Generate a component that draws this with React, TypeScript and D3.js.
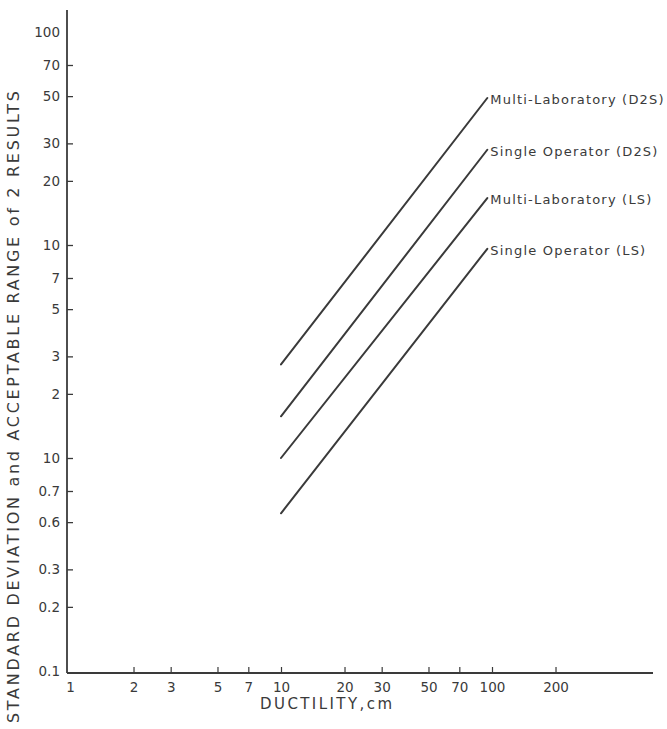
import { useEffect, useRef } from "react";
import * as d3 from "d3";

// ductility range covered by the precision lines (cm)
const ductility = [10, 95];

const seriesNames = [
  "Multi-Laboratory (D2S)",
  "Single Operator (D2S)",
  "Multi-Laboratory (LS)",
  "Single Operator (LS)",
];
const multiLabD2S = [2.75, 49];
const singleOpD2S = [1.57, 28];
const multiLabLS = [1.0, 16.6];
const singleOpLS = [0.55, 9.6];

const yTickValues = [0.1, 0.2, 0.3, 0.5, 0.7, 1, 2, 3, 5, 7, 10, 20, 30, 50, 70, 100];
const yTickLabels = ["0.1", "0.2", "0.3", "0.6", "0.7", "10", "2", "3", "5", "7", "10", "20", "30", "50", "70", "100"];
const xTickValues = [1, 2, 3, 5, 7, 10, 20, 30, 50, 70, 100, 200];
const xTickLabels = ["1", "2", "3", "5", "7", "10", "20", "30", "50", "70", "100", "200"];

const App = () => {
  const chartRef = useRef<SVGSVGElement>(null);

  useEffect(() => {
    const width = 667;
    const height = 729;
    const ink = "#3a3a3a";
    const font = "'DejaVu Sans', sans-serif";

    const svg = d3.select(chartRef.current);
    svg.selectAll("*").remove();

    svg.append("rect").attr("width", width).attr("height", height).attr("fill", "#fff");

    // Échelles log-log
    const x = d3.scaleLog().domain([1, 100]).range([70, 492]);
    const y = d3.scaleLog().domain([0.1, 100]).range([671, 32]);

    const x0 = 67;
    const x1 = 653;
    const yTop = 10;
    const yBase = 673;

    // Axe Y
    const yAxis = svg.append("g")
      .attr("transform", `translate(${x0},0)`)
      .call(
        d3.axisLeft(y)
          .tickValues(yTickValues)
          .tickFormat((_, i) => yTickLabels[i])
          .tickSizeInner(-6)
          .tickSizeOuter(0)
          .tickPadding(7)
      );
    yAxis.select(".domain").remove();
    yAxis.selectAll(".tick line").attr("stroke", ink).attr("stroke-width", 1.3);
    yAxis.selectAll(".tick")
      .filter((d) => d === 100 || d === 0.1)
      .select("line")
      .remove();
    yAxis.selectAll(".tick text")
      .attr("fill", ink)
      .attr("font-family", font)
      .attr("font-size", 13.5);

    // Axe X
    const xAxis = svg.append("g")
      .attr("transform", `translate(0,${yBase})`)
      .call(
        d3.axisBottom(x)
          .tickValues(xTickValues)
          .tickFormat((_, i) => xTickLabels[i])
          .tickSizeInner(-6)
          .tickSizeOuter(0)
          .tickPadding(9)
      );
    xAxis.select(".domain").remove();
    xAxis.selectAll(".tick line").attr("stroke", ink).attr("stroke-width", 1.2);
    xAxis.selectAll(".tick")
      .filter((d) => d === 1)
      .select("line")
      .remove();
    xAxis.selectAll(".tick text")
      .attr("fill", ink)
      .attr("font-family", font)
      .attr("font-size", 13.5);

    // Lignes des axes
    svg.append("line")
      .attr("x1", x0).attr("x2", x0).attr("y1", yTop).attr("y2", yBase)
      .attr("stroke", ink).attr("stroke-width", 1.8);
    svg.append("line")
      .attr("x1", x0).attr("x2", x1).attr("y1", yBase).attr("y2", yBase)
      .attr("stroke", ink).attr("stroke-width", 1.8);

    // Lignes de précision
    const series = [multiLabD2S, singleOpD2S, multiLabLS, singleOpLS];
    const line = d3.line<number>()
      .x((_, i) => x(ductility[i]))
      .y((d) => y(d));

    series.forEach((values, k) => {
      svg.append("path")
        .attr("d", line(values))
        .attr("fill", "none")
        .attr("stroke", ink)
        .attr("stroke-width", 2)
        .attr("stroke-linecap", "round");

      svg.append("text")
        .attr("x", x(ductility[1]) + 3)
        .attr("y", y(values[1]) + 6)
        .attr("fill", ink)
        .attr("font-family", font)
        .attr("font-size", 13)
        .attr("letter-spacing", 1.2)
        .text(seriesNames[k]);
    });

    // Titres des axes
    svg.append("text")
      .attr("x", 326)
      .attr("y", 709)
      .attr("text-anchor", "middle")
      .attr("fill", ink)
      .attr("font-family", font)
      .attr("font-size", 15)
      .attr("textLength", 132)
      .attr("lengthAdjust", "spacing")
      .text("DUCTILITY,cm");

    svg.append("text")
      .attr("transform", "translate(19,407) rotate(-90)")
      .attr("text-anchor", "middle")
      .attr("fill", ink)
      .attr("font-family", font)
      .attr("font-size", 16)
      .attr("textLength", 632)
      .attr("lengthAdjust", "spacing")
      .text("STANDARD DEVIATION and ACCEPTABLE RANGE of 2 RESULTS");
  }, []);

  return (
    <svg
      ref={chartRef}
      width={667}
      height={729}
      style={{ position: "absolute", left: 0, top: 0 }}
    />
  );
};

export default App;
